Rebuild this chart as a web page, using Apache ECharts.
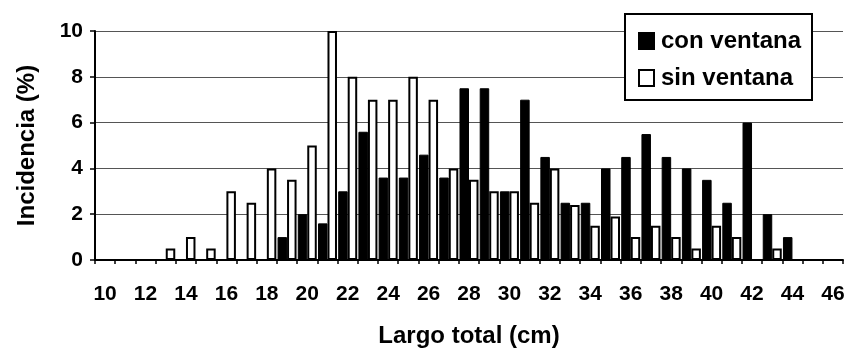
<!DOCTYPE html>
<html>
<head>
<meta charset="utf-8">
<script src="https://cdn.jsdelivr.net/npm/echarts@6/dist/echarts.min.js"></script>
<style>
html,body{margin:0;padding:0;background:#fff;}
#chart{width:851px;height:353px;}
</style>
</head>
<body>
<div id="chart"></div>
<script>
const categories = ['10','11','12','13','14','15','16','17','18','19','20','21','22','23','24','25','26','27','28','29','30','31','32','33','34','35','36','37','38','39','40','41','42','43','44','45','46'];
const conVentana = [0,0,0,0,0,0,0,0,0,1,2,1.6,3,5.6,3.6,3.6,4.6,3.6,7.5,7.5,3,7,4.5,2.5,2.5,4,4.5,5.5,4.5,4,3.5,2.5,6,2,1,0,0];
const sinVentana = [0,0,0,0.5,1,0.5,3,2.5,4,3.5,5,10,8,7,7,8,7,4,3.5,3,3,2.5,4,2.4,1.5,1.9,1,1.5,1,0.5,1.5,1,0,0.5,0,0,0];
const yTicks = [0,2,4,6,8,10];
const seriesNames = ['con ventana','sin ventana'];
const xTitle = 'Largo total (cm)';
const yTitle = 'Incidencia (%)';

const FONT = 'Liberation Sans, Arial, sans-serif';
const chart = echarts.init(document.getElementById('chart'), null, {renderer:'canvas'});
chart.setOption({
  animation: false,
  backgroundColor: '#fff',
  textStyle: {fontFamily: FONT, color: '#000'},
  grid: {left: 95, right: 8, top: 31, bottom: 93, containLabel: false},
  graphic: [{
    type: 'rect', left: 624, top: 13, z: 5,
    shape: {width: 187, height: 86},
    style: {fill: '#fff', stroke: '#000', lineWidth: 2}
  }],
  legend: {
    orient: 'vertical',
    left: 638, top: 29, z: 10,
    padding: 0,
    itemGap: 13,
    itemWidth: 15, itemHeight: 16,
    icon: 'rect',
    textStyle: {fontFamily: FONT, fontSize: 24, fontWeight: 'bold', color: '#000', padding: [0,0,0,2]},
    data: seriesNames
  },
  xAxis: {
    type: 'category',
    data: categories,
    boundaryGap: true,
    name: xTitle,
    nameLocation: 'middle',
    nameGap: 64,
    nameTextStyle: {fontFamily: FONT, fontSize: 24, fontWeight: 'bold', color: '#000'},
    axisLine: {lineStyle: {color: '#000', width: 2}},
    axisTick: {show: true, interval: 0, length: 4, lineStyle: {color: '#000', width: 1.5}},
    axisLabel: {interval: 1, margin: 24, fontFamily: FONT, fontSize: 21, fontWeight: 'bold', color: '#000'},
    splitLine: {show: false}
  },
  yAxis: {
    type: 'value',
    min: yTicks[0], max: yTicks[yTicks.length-1], interval: 2,
    name: yTitle,
    nameLocation: 'middle',
    nameGap: 56,
    nameRotate: 90,
    nameTextStyle: {fontFamily: FONT, fontSize: 24, fontWeight: 'bold', color: '#000'},
    axisLine: {show: true, lineStyle: {color: '#000', width: 2}},
    axisTick: {show: true, length: 5, lineStyle: {color: '#000', width: 1.5}},
    axisLabel: {margin: 12, fontFamily: FONT, fontSize: 21, fontWeight: 'bold', color: '#000'},
    splitLine: {show: true, lineStyle: {color: '#555', width: 1}}
  },
  series: [
    {
      name: seriesNames[0], type: 'bar', data: conVentana,
      barGap: '0%', barCategoryGap: '6%',
      itemStyle: {color: '#000', borderColor: '#000', borderWidth: 1}
    },
    {
      name: seriesNames[1], type: 'bar', data: sinVentana,
      barGap: '0%', barCategoryGap: '6%',
      itemStyle: {color: '#fff', borderColor: '#000', borderWidth: 2}
    }
  ]
});
</script>
</body>
</html>
